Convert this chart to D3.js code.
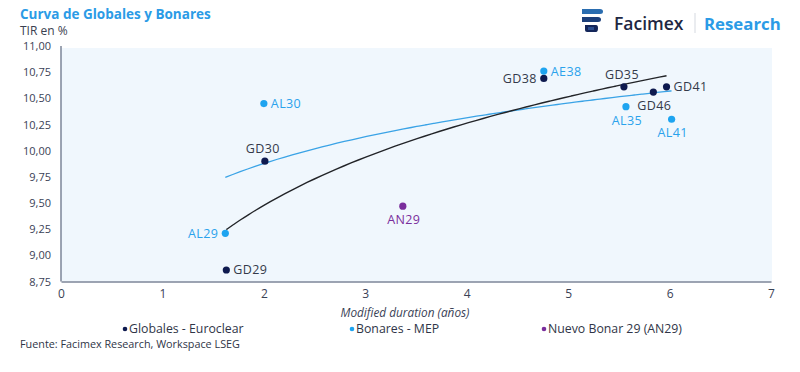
<!DOCTYPE html>
<html>
<head>
<meta charset="utf-8">
<script src="https://cdn.jsdelivr.net/npm/d3@7"></script>
<style>
  html, body { margin: 0; padding: 0; background: #ffffff; }
  svg { display: block; font-family: "Open Sans", "Noto Sans", sans-serif; }
</style>
</head>
<body>
<svg id="chart" width="800" height="372"></svg>
<script>
// ---------- Data ----------
const globalesNames = ["GD29", "GD30", "GD38", "GD35", "GD46", "GD41"];
const globalesDur   = [1.63, 2.01, 4.76, 5.55, 5.84, 5.97];
const globalesTir   = [8.86, 9.90, 10.69, 10.61, 10.56, 10.61];

const bonaresNames = ["AL29", "AL30", "AE38", "AL35", "AL41"];
const bonaresDur   = [1.62, 2.00, 4.76, 5.57, 6.02];
const bonaresTir   = [9.21, 10.45, 10.76, 10.42, 10.30];

const nuevoNames = ["AN29"];
const nuevoDur   = [3.37];
const nuevoTir   = [9.47];

const xTicks = [0, 1, 2, 3, 4, 5, 6, 7];
const yTicks = [8.75, 9.00, 9.25, 9.50, 9.75, 10.00, 10.25, 10.50, 10.75, 11.00];

const legendLabels = ["Globales - Euroclear", "Bonares - MEP", "Nuevo Bonar 29 (AN29)"];

// ---------- Layout / style ----------
const colGlob = "#0e1a4f", colBon = "#1ea4f0", colNew = "#7a2e9c";
const labelPlace = {
  GD29: "right", GD30: "above", GD38: "left", GD35: "above", GD46: "below", GD41: "right",
  AL29: "left", AL30: "right", AE38: "right", AL35: "below", AL41: "below", AN29: "below"
};

const svg = d3.select("#chart");
const x = d3.scaleLinear().domain([0, 7]).range([61, 771]);
const y = d3.scaleLinear().domain([8.75, 11]).range([281.5, 46]);

// plot background
svg.append("rect")
  .attr("x", x(0)).attr("y", 48)
  .attr("width", x(7) - x(0) + 1).attr("height", y(8.75) - 48)
  .attr("fill", "#f0f7fd");

// axes
const fmt = d3.format(".2f");
const yAxis = svg.append("g").attr("transform", `translate(${x(0)},0)`)
  .call(d3.axisLeft(y).tickValues(yTicks).tickSize(0).tickPadding(10)
    .tickFormat(d => fmt(d).replace(".", ",")));
yAxis.select(".domain").attr("stroke", "#7c8699").attr("stroke-width", 1.5)
  .attr("d", `M0,${y(11)}V${y(8.75)}`);
yAxis.selectAll("text").attr("fill", "#3a4256").attr("font-size", 11).attr("font-family", "Open Sans, sans-serif");

const xAxis = svg.append("g").attr("transform", `translate(0,${y(8.75)})`)
  .call(d3.axisBottom(x).tickValues(xTicks).tickSize(0).tickPadding(8).tickFormat(d3.format("d")));
xAxis.select(".domain").attr("stroke", "#7c8699").attr("stroke-width", 1.5);
xAxis.selectAll("text").attr("fill", "#3a4256").attr("font-size", 12).attr("font-family", "Open Sans, sans-serif");

svg.append("text").attr("x", 405).attr("y", 317)
  .attr("text-anchor", "middle").attr("font-size", 11.8).attr("font-style", "italic")
  .attr("fill", "#3a4256").text("Modified duration (años)");

// ---------- Log trend lines (least squares y = a + b ln x) ----------
function logFit(xs, ys) {
  const lx = xs.map(Math.log);
  const mx = d3.mean(lx), my = d3.mean(ys);
  const b = d3.sum(lx, (v, i) => (v - mx) * (ys[i] - my)) / d3.sum(lx, v => (v - mx) ** 2);
  const a = my - b * mx;
  const [lo, hi] = d3.extent(xs);
  return d3.range(0, 61).map(i => {
    const xv = lo + (hi - lo) * i / 60;
    return [xv, a + b * Math.log(xv)];
  });
}
const line = d3.line().x(d => x(d[0])).y(d => y(d[1])).curve(d3.curveBasis);
svg.append("path").datum(logFit(bonaresDur, bonaresTir))
  .attr("d", line).attr("fill", "none").attr("stroke", "#3aa3e6").attr("stroke-width", 1.3);
svg.append("path").datum(logFit(globalesDur, globalesTir))
  .attr("d", line).attr("fill", "none").attr("stroke", "#222428").attr("stroke-width", 1.4);

// ---------- Points ----------
function series(names, durs, tirs, color, labelColor) {
  const data = names.map((n, i) => ({ n, d: durs[i], t: tirs[i] }));
  const g = svg.append("g");
  g.selectAll("circle").data(data).join("circle")
    .attr("cx", d => x(d.d)).attr("cy", d => y(d.t)).attr("r", 3.6).attr("fill", color);
  g.selectAll("text").data(data).join("text")
    .attr("font-size", 12.5).attr("letter-spacing", 0.4).attr("fill", labelColor)
    .each(function (d) {
      const p = labelPlace[d.n], cx = x(d.d), cy = y(d.t);
      const t = d3.select(this).text(d.n);
      if (p === "right") t.attr("x", cx + 7).attr("y", cy + 4.5).attr("text-anchor", "start");
      else if (p === "left") t.attr("x", cx - 7).attr("y", cy + 4.5).attr("text-anchor", "end");
      else if (p === "above") t.attr("x", cx - 2).attr("y", cy - 8).attr("text-anchor", "middle");
      else t.attr("x", cx + 1).attr("y", cy + 18).attr("text-anchor", "middle");
    });
}
series(globalesNames, globalesDur, globalesTir, colGlob, "#343a4a");
series(bonaresNames, bonaresDur, bonaresTir, colBon, "#2aa2ec");
series(nuevoNames, nuevoDur, nuevoTir, colNew, "#7a2e9c");

// ---------- Legend ----------
const legendX = [125, 352, 544];
const legendCol = [colGlob, colBon, colNew];
const lg = svg.append("g");
legendLabels.forEach((l, i) => {
  lg.append("circle").attr("cx", legendX[i]).attr("cy", 329).attr("r", 2.3).attr("fill", legendCol[i]);
  lg.append("text").attr("x", legendX[i] + 4).attr("y", 333).attr("font-size", 12.3)
    .attr("fill", "#2f3547").text(l);
});

// ---------- Titles / source ----------
svg.append("text").attr("x", 20).attr("y", 19).attr("font-size", 13.5).attr("font-weight", 700)
  .attr("fill", "#2b9be6").text("Curva de Globales y Bonares");
svg.append("text").attr("x", 20).attr("y", 35).attr("font-size", 12)
  .attr("fill", "#3a4050").text("TIR en %");
svg.append("text").attr("x", 20).attr("y", 348).attr("font-size", 10.8)
  .attr("fill", "#2f3547").text("Fuente: Facimex Research, Workspace LSEG");

// ---------- Logo ----------
const logo = svg.append("g");
logo.append("path").attr("d", "M582,9 H600 Q603,9 603,11.5 Q603,14 600,14 H582 Z").attr("fill", "#2a6db0");
logo.append("path").attr("d", "M582,17 H598 Q601,17 601,19.5 Q601,22 598,22 H582 Z").attr("fill", "#1c3f7a");
logo.append("path").attr("d", "M585,25 H596 Q598,25 598,28 Q598,32 596,32 H587 Q585,32 585,30 Z").attr("fill", "#14265a");
logo.append("rect").attr("x", 588).attr("y", 27).attr("width", 6).attr("height", 3).attr("fill", "#2a4d8f");
logo.append("text").attr("x", 614).attr("y", 30).attr("font-size", 17.5).attr("font-weight", 600)
  .attr("fill", "#1e2742").text("Facimex");
logo.append("line").attr("x1", 695).attr("x2", 695).attr("y1", 13).attr("y2", 33)
  .attr("stroke", "#d5d9e0").attr("stroke-width", 1);
logo.append("text").attr("x", 704).attr("y", 30).attr("font-size", 16.8).attr("font-weight", 700)
  .attr("fill", "#2b9be6").text("Research");
</script>
</body>
</html>
